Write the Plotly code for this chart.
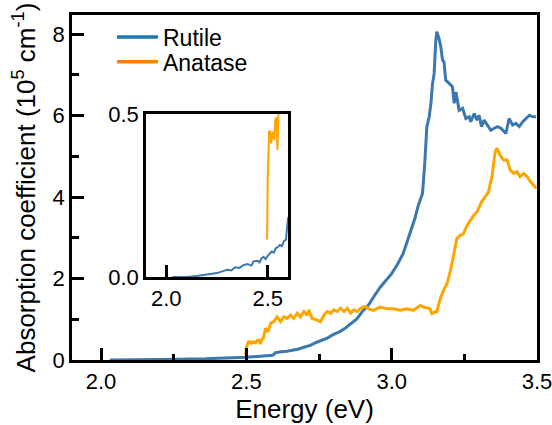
import plotly.graph_objects as go

# ---------------- data ----------------
rutile_E = [2.03, 2.10, 2.15, 2.20, 2.25, 2.28, 2.30, 2.32, 2.34, 2.36, 2.38, 2.40, 2.42, 2.43,
            2.45, 2.46, 2.47, 2.48, 2.49, 2.50, 2.51, 2.52, 2.53, 2.54, 2.55, 2.56, 2.57, 2.58,
            2.59, 2.595, 2.60, 2.61, 2.62, 2.64, 2.66, 2.68, 2.70, 2.72, 2.74, 2.76, 2.78, 2.80,
            2.82, 2.84, 2.86, 2.88, 2.90, 2.92, 2.94, 2.96, 2.98, 3.00, 3.02, 3.04, 3.06, 3.08,
            3.09, 3.10, 3.106, 3.113, 3.117, 3.121, 3.129, 3.135, 3.140, 3.146, 3.152, 3.155,
            3.158, 3.163, 3.169, 3.175, 3.180, 3.186, 3.198, 3.209, 3.215, 3.221, 3.226, 3.232,
            3.244, 3.255, 3.267, 3.272, 3.284, 3.293, 3.301, 3.309, 3.318, 3.330, 3.341, 3.353,
            3.364, 3.376, 3.393, 3.404, 3.416, 3.427, 3.439, 3.451, 3.462, 3.474, 3.485, 3.497]
rutile_A = [0.000, 0.000, 0.003, 0.007, 0.012, 0.018, 0.022, 0.020, 0.030, 0.028, 0.036, 0.040,
            0.035, 0.048, 0.050, 0.045, 0.058, 0.062, 0.055, 0.065, 0.072, 0.078, 0.075, 0.088,
            0.092, 0.098, 0.095, 0.110, 0.115, 0.140, 0.180, 0.190, 0.205, 0.215, 0.245, 0.270,
            0.320, 0.360, 0.430, 0.490, 0.545, 0.630, 0.690, 0.780, 0.890, 1.010, 1.200, 1.350,
            1.570, 1.780, 1.950, 2.120, 2.350, 2.620, 3.050, 3.480, 3.760, 4.000, 4.090, 4.740,
            5.300, 5.730, 5.970, 6.300, 6.750, 7.030, 7.850, 8.060, 8.000, 7.890, 7.690, 7.360,
            7.320, 6.870, 6.790, 6.710, 6.300, 6.580, 6.380, 6.130, 6.180, 5.930, 5.970, 5.850,
            6.050, 5.890, 6.010, 5.730, 5.890, 5.770, 5.640, 5.690, 5.730, 5.690, 5.560, 5.930,
            5.770, 5.810, 5.730, 5.850, 5.930, 6.010, 5.970, 5.970]

anatase_E = [2.497, 2.500, 2.507, 2.512, 2.517, 2.525, 2.532, 2.537, 2.543, 2.548, 2.553, 2.558,
             2.566, 2.575, 2.583, 2.594, 2.606, 2.617, 2.629, 2.640, 2.652, 2.663, 2.675, 2.686,
             2.698, 2.709, 2.715, 2.726, 2.744, 2.755, 2.767, 2.778, 2.790, 2.801, 2.813, 2.824,
             2.836, 2.848, 2.859, 2.870, 2.882, 2.893, 2.905, 2.914, 2.922, 2.937, 2.960, 2.983,
             3.006, 3.029, 3.052, 3.075, 3.098, 3.109, 3.132, 3.138, 3.149, 3.155, 3.167, 3.178,
             3.190, 3.201, 3.213, 3.224, 3.236, 3.247, 3.259, 3.270, 3.282, 3.293, 3.299, 3.310,
             3.322, 3.333, 3.345, 3.356, 3.362, 3.373, 3.385, 3.397, 3.408, 3.420, 3.431, 3.442,
             3.454, 3.466, 3.477, 3.489, 3.498]
anatase_A = [0.115, 0.300, 0.446, 0.446, 0.410, 0.446, 0.420, 0.480, 0.490, 0.390, 0.500, 0.530,
             0.780, 0.690, 0.900, 0.940, 1.060, 0.940, 1.060, 1.020, 1.100, 1.020, 1.150, 1.060,
             1.190, 1.100, 1.230, 1.020, 0.980, 0.940, 1.100, 1.190, 1.150, 1.230, 1.190, 1.270,
             1.190, 1.270, 1.150, 1.230, 1.190, 1.270, 1.310, 1.300, 1.250, 1.220, 1.300, 1.260,
             1.260, 1.220, 1.260, 1.220, 1.340, 1.300, 1.260, 1.140, 1.180, 1.180, 1.500, 1.710,
             1.870, 2.160, 2.570, 2.980, 3.060, 3.100, 3.300, 3.430, 3.550, 3.630, 3.720, 3.890,
             4.010, 4.130, 4.500, 5.110, 5.200, 5.030, 4.910, 4.910, 4.660, 4.580, 4.620, 4.500,
             4.580, 4.500, 4.380, 4.290, 4.210]

series_names = ["Rutile", "Anatase"]
line_colors = ["#3b78b0", "#ffa500"]
legend_colors = ["#1f77b4", "#ff7f0e"]

main_xticks = [2.0, 2.5, 3.0, 3.5]
main_yticks = [0, 2, 4, 6, 8]
inset_xticks = [2.0, 2.5]
inset_yticks = [0.0, 0.5]

FONT = "Arial, Liberation Sans, sans-serif"

fig = go.Figure()

# main curves
fig.add_trace(go.Scatter(x=rutile_E, y=rutile_A, mode="lines", showlegend=False,
                         line=dict(color=line_colors[0], width=3), xaxis="x", yaxis="y"))
fig.add_trace(go.Scatter(x=anatase_E, y=anatase_A, mode="lines", showlegend=False,
                         line=dict(color=line_colors[1], width=3), xaxis="x", yaxis="y"))
# legend entries (one legend box per entry for exact row spacing)
for name, col, lg in zip(series_names, legend_colors, ["legend", "legend2"]):
    fig.add_trace(go.Scatter(x=[None], y=[None], mode="lines", name=name, legend=lg,
                             line=dict(color=col, width=3.5)))
# inset curves
fig.add_trace(go.Scatter(x=rutile_E, y=rutile_A, mode="lines", showlegend=False,
                         line=dict(color=line_colors[0], width=2), xaxis="x2", yaxis="y2"))
fig.add_trace(go.Scatter(x=anatase_E, y=anatase_A, mode="lines", showlegend=False,
                         line=dict(color=line_colors[1], width=2), xaxis="x2", yaxis="y2"))

axis_common = dict(showline=True, linecolor="black", linewidth=2.5, mirror=True,
                   ticks="inside", tickcolor="black", tickwidth=2.5, ticklen=12,
                   showgrid=False, zeroline=False, automargin=False,
                   ticklabeloverflow="allow",
                   tickfont=dict(size=22, color="black"))

legend_common = dict(xanchor="left", yanchor="middle", bgcolor="rgba(0,0,0,0)",
                     font=dict(size=23), itemwidth=41, borderwidth=0)

fig.update_layout(
    width=552, height=425,
    margin=dict(l=72, r=15, t=15, b=65),
    paper_bgcolor="white", plot_bgcolor="white",
    font=dict(family=FONT, color="black"),
    xaxis=dict(range=[1.9, 3.5], tickvals=main_xticks, tickformat=".1f",
               title=dict(text="Energy (eV)", font=dict(size=26), standoff=4),
               minor=dict(dtick=0.25, tick0=2.0, ticks="inside", ticklen=6,
                          tickwidth=2.5, tickcolor="black"),
               domain=[0, 1], anchor="y", **axis_common),
    yaxis=dict(range=[0, 8.47], tickvals=main_yticks,
               title=dict(text="Absorption coefficient (10<sup>5</sup> cm<sup>-1</sup>)",
                          font=dict(size=26), standoff=10),
               minor=dict(dtick=1, tick0=0, ticks="inside", ticklen=7,
                          tickwidth=2.5, tickcolor="black"),
               domain=[0, 1], anchor="x", **axis_common),
    xaxis2=dict(range=[1.9, 2.6], tickvals=inset_xticks, tickformat=".1f",
                domain=[0.159, 0.4645], anchor="y2", **axis_common),
    yaxis2=dict(range=[0, 0.5], tickvals=inset_yticks, tickformat=".1f",
                domain=[0.2406, 0.713], anchor="x2", **axis_common),
    legend=dict(x=0.086, y=0.936, **legend_common),
    legend2=dict(x=0.086, y=0.864, **legend_common),
)

fig.write_html("out.html")
